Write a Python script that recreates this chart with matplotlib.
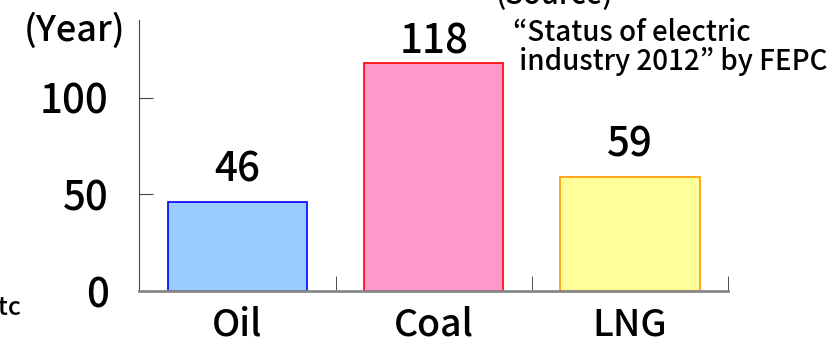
import matplotlib.pyplot as plt
import numpy as np

plt.rcParams['font.family'] = ['Noto Sans CJK JP', 'DejaVu Sans']

fuels = ['Oil', 'Coal', 'LNG']
years = [46, 118, 59]
fills = ['#99ccff', '#ff99cc', '#ffff99']
edges = ['#0000ff', '#ff0000', '#ff9900']
yticks = [0, 50, 100]

fig = plt.figure(figsize=(8.39, 3.47), dpi=100)
ax = fig.add_axes([0.166, 0.161, 0.702, 0.781])

x = np.arange(len(fuels))
ax.bar(x, years, width=0.71, color=fills, edgecolor=edges, linewidth=1.2)
for xi, v in zip(x, years):
    # labels stay inside the plot area, as in the original
    ax.text(xi, min(v + 6, 118), str(v), ha='center', va='bottom',
            fontsize=29, fontweight='medium')

ax.set_xlim(-0.5, 2.5)
ax.set_ylim(0, 140)
ax.set_yticks(yticks)
ax.set_yticklabels([str(t) for t in yticks], fontsize=29, fontweight='medium')
ax.tick_params(axis='y', direction='in', length=10, pad=22, color='#444444')
ax.set_xticks(x)
ax.set_xticklabels(fuels, fontsize=27, fontweight='medium')
ax.tick_params(axis='x', length=0, pad=10)
# category boundary ticks
ax.set_xticks([-0.5, 0.5, 1.5, 2.5], minor=True)
ax.tick_params(axis='x', which='minor', direction='in', length=11, color='#333333')

for s in ['top', 'right']:
    ax.spines[s].set_visible(False)
ax.spines['left'].set_color('#444444')
ax.spines['bottom'].set_color('#888888')
ax.spines['bottom'].set_linewidth(2)

fig.text(0.149, 0.912, '(Year)', ha='right', va='center', fontsize=26, fontweight='medium')
fig.text(0.59, 1.012, '(Source)', ha='left', va='center', fontsize=21, fontweight='medium')
fig.text(0.612, 0.865, '\u201cStatus of electric\n industry 2012\u201d by FEPC',
         ha='left', va='center', fontsize=20, linespacing=1.0, fontweight='medium')
fig.text(-0.02, 0.112, 'Etc', ha='left', va='center', fontsize=18, fontweight='medium')

fig.savefig('out.png', dpi=100)
